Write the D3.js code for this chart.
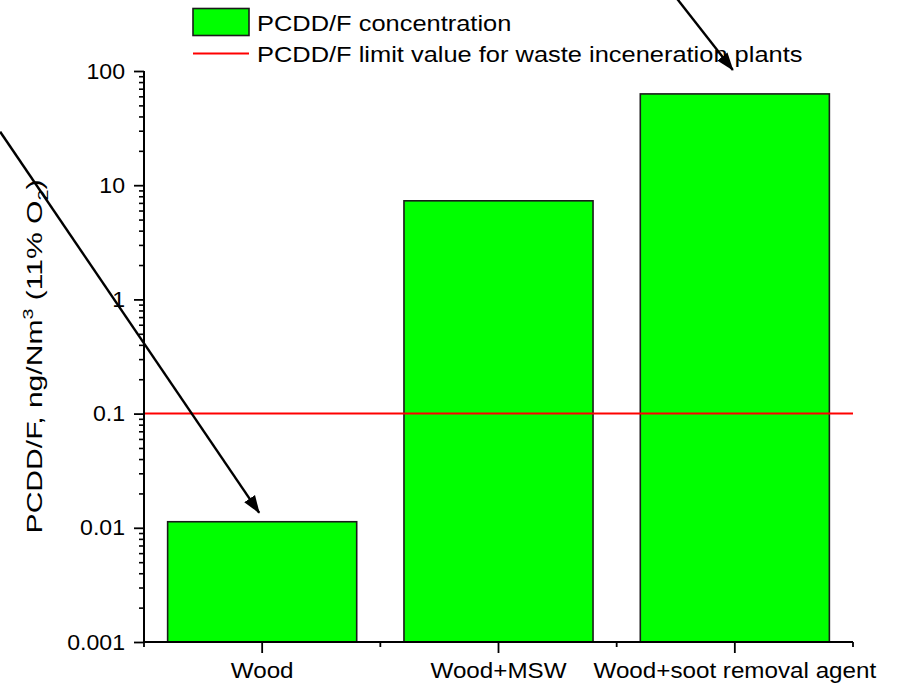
<!DOCTYPE html>
<html>
<head>
<meta charset="utf-8">
<script src="https://cdn.jsdelivr.net/npm/d3@7"></script>
<style>
  body { margin: 0; background: #fff; }
  svg { display: block; font-family: "Liberation Sans", Arial, sans-serif; }
</style>
</head>
<body>
<svg id="chart" width="897" height="684"></svg>
<script>
// data
const categories = ["Wood", "Wood+MSW", "Wood+soot removal agent"];
const concentration = [0.0113, 7.3, 63];
const limitValue = 0.1;
const yTicks = [0.001, 0.01, 0.1, 1, 10, 100];
const yTickLabels = ["0.001", "0.01", "0.1", "1", "10", "100"];
const legendLabels = [
  "PCDD/F concentration",
  "PCDD/F limit value for waste inceneration plants",
];
// arrows point at the tops of these bars
const arrowTargets = ["Wood", "Wood+soot removal agent"];

const width = 897;
const height = 684;
const marginTop = 71;
const marginRight = 44;
const marginBottom = 42;
const marginLeft = 144;
const stretch = 1.1; // the original lettering is a bit wider than Arial

const svg = d3.select("#chart");

const defs = svg.append("defs");
defs
  .append("marker")
  .attr("id", "head")
  .attr("markerUnits", "userSpaceOnUse")
  .attr("viewBox", "0 -7 18 14")
  .attr("refX", 17)
  .attr("refY", 0)
  .attr("markerWidth", 18)
  .attr("markerHeight", 14)
  .attr("orient", "auto")
  .append("path")
  .attr("d", "M0,-6.5L18,0L0,6.5Z")
  .attr("fill", "#000");

const x = d3
  .scaleBand()
  .domain(categories)
  .range([marginLeft, width - marginRight])
  .paddingInner(0.2)
  .paddingOuter(0.1);

const xOuter = d3
  .scaleBand()
  .domain(categories)
  .range([marginLeft, width - marginRight]);

const y = d3
  .scaleLog()
  .domain([0.001, 100])
  .range([height - marginBottom, marginTop]);

function widen(sel, sx) {
  sel.each(function () {
    const w = this.getComputedTextLength();
    this.setAttribute("textLength", w * sx);
    this.setAttribute("lengthAdjust", "spacingAndGlyphs");
  });
}

// bars
svg
  .append("g")
  .selectAll("rect")
  .data(categories)
  .join("rect")
  .attr("x", (d) => x(d))
  .attr("width", x.bandwidth())
  .attr("y", (d, i) => y(concentration[i]))
  .attr("height", (d, i) => y(0.001) - y(concentration[i]))
  .attr("fill", "#00ff00")
  .attr("stroke", "#1a1a1a")
  .attr("stroke-width", 1.6);

// limit line
svg
  .append("line")
  .attr("x1", marginLeft)
  .attr("x2", width - marginRight)
  .attr("y1", y(limitValue))
  .attr("y2", y(limitValue))
  .attr("stroke", "#ff0000")
  .attr("stroke-width", 2);

// y axis, minor ticks first
const minor = [];
for (let e = -3; e < 2; e++)
  for (let k = 2; k <= 9; k++) minor.push(k * Math.pow(10, e));

svg
  .append("g")
  .attr("transform", `translate(${marginLeft},0)`)
  .call(d3.axisLeft(y).tickValues(minor).tickSize(5).tickFormat(""))
  .call((g) => g.select(".domain").remove())
  .call((g) => g.selectAll("line").attr("stroke-width", 1.6));

const yAxisG = svg
  .append("g")
  .attr("transform", `translate(${marginLeft},0)`)
  .call(
    d3
      .axisLeft(y)
      .tickValues(yTicks)
      .tickSize(10)
      .tickPadding(9)
      .tickFormat((d, i) => yTickLabels[i])
  )
  .call((g) => g.select(".domain").attr("d", `M0,${y(0.001)}V${y(100)}`).attr("stroke-width", 2))
  .call((g) => g.selectAll("line").attr("stroke-width", 1.8))
  .call((g) =>
    g.selectAll("text").attr("font-size", 22).attr("fill", "#000")
  );
yAxisG.attr("font-family", null);
widen(yAxisG.selectAll("text"), 1.05);

// x axis: minor ticks at band edges, major at centres
svg
  .append("g")
  .attr("transform", `translate(0,${height - marginBottom})`)
  .call(
    d3
      .axisBottom(xOuter)
      .tickValues(categories.slice(1))
      .tickSize(5)
      .tickFormat("")
      .offset(0)
  )
  .call((g) => g.select(".domain").remove())
  .call((g) => g.selectAll(".tick").attr("transform", (d) => `translate(${xOuter(d)},0)`))
  .call((g) => g.selectAll("line").attr("stroke-width", 1.8));

svg
  .append("g")
  .attr("transform", `translate(0,${height - marginBottom})`)
  .selectAll("line")
  .data([marginLeft, width - marginRight])
  .join("line")
  .attr("x1", (d) => d)
  .attr("x2", (d) => d)
  .attr("y2", 5)
  .attr("stroke", "#000")
  .attr("stroke-width", 1.8);

const xAxisG = svg
  .append("g")
  .attr("transform", `translate(0,${height - marginBottom})`)
  .call(d3.axisBottom(xOuter).tickSize(11).tickPadding(9).tickSizeOuter(0))
  .call((g) => g.select(".domain").attr("d", `M${marginLeft},0H${width - marginRight}`).attr("stroke-width", 2))
  .call((g) => g.selectAll("line").attr("stroke-width", 1.8))
  .call((g) =>
    g.selectAll("text").attr("font-size", 22).attr("fill", "#000")
  );
xAxisG.attr("font-family", null);
widen(xAxisG.selectAll("text"), stretch);

// y axis title
const title = svg
  .append("text")
  .attr("text-anchor", "middle")
  .attr("font-size", 23)
  .attr("fill", "#000");
title.append("tspan").text("PCDD/F, ng/Nm");
title.append("tspan").attr("font-size", 15).attr("dy", -9).text("3");
title.append("tspan").attr("dy", 9).text(" (11% O");
title.append("tspan").attr("font-size", 15).attr("dy", 6).text("2");
title.append("tspan").attr("dy", -6).text(")");
const titleLen = title.node().getComputedTextLength();
const plotMid = (y(0.001) + y(100)) / 2;
title.attr(
  "transform",
  `translate(42,${plotMid}) rotate(-90) scale(${354 / titleLen},1)`
);

// legend
const legend = svg.append("g").attr("transform", "translate(193,0)");
legend
  .append("rect")
  .attr("y", 8.5)
  .attr("width", 56)
  .attr("height", 27)
  .attr("fill", "#00ff00")
  .attr("stroke", "#1a1a1a")
  .attr("stroke-width", 1.6);
legend
  .append("line")
  .attr("x2", 56)
  .attr("y1", 53.5)
  .attr("y2", 53.5)
  .attr("stroke", "#ff0000")
  .attr("stroke-width", 2);
const legendText = legend
  .selectAll("text")
  .data(legendLabels)
  .join("text")
  .attr("x", 64)
  .attr("y", (d, i) => 30.5 + i * 31.5)
  .attr("font-size", 22.5)
  .attr("fill", "#000")
  .text((d) => d);
widen(legendText, 1.13);

// arrows drawn from outside the plot to the bar tops
const arrowDirs = [
  [-259, -381],
  [-58, -74],
];
svg
  .append("g")
  .selectAll("line")
  .data(arrowTargets)
  .join("line")
  .each(function (d, i) {
    const j = categories.indexOf(d);
    const tx = x(d) + x.bandwidth() / 2 - (i === 0 ? 3 : 2);
    const ty = y(concentration[j]) - (i === 0 ? 9 : 24);
    d3.select(this)
      .attr("x1", tx + arrowDirs[i][0])
      .attr("y1", ty + arrowDirs[i][1])
      .attr("x2", tx)
      .attr("y2", ty);
  })
  .attr("stroke", "#000")
  .attr("stroke-width", 2.4)
  .attr("marker-end", "url(#head)");
</script>
</body>
</html>
